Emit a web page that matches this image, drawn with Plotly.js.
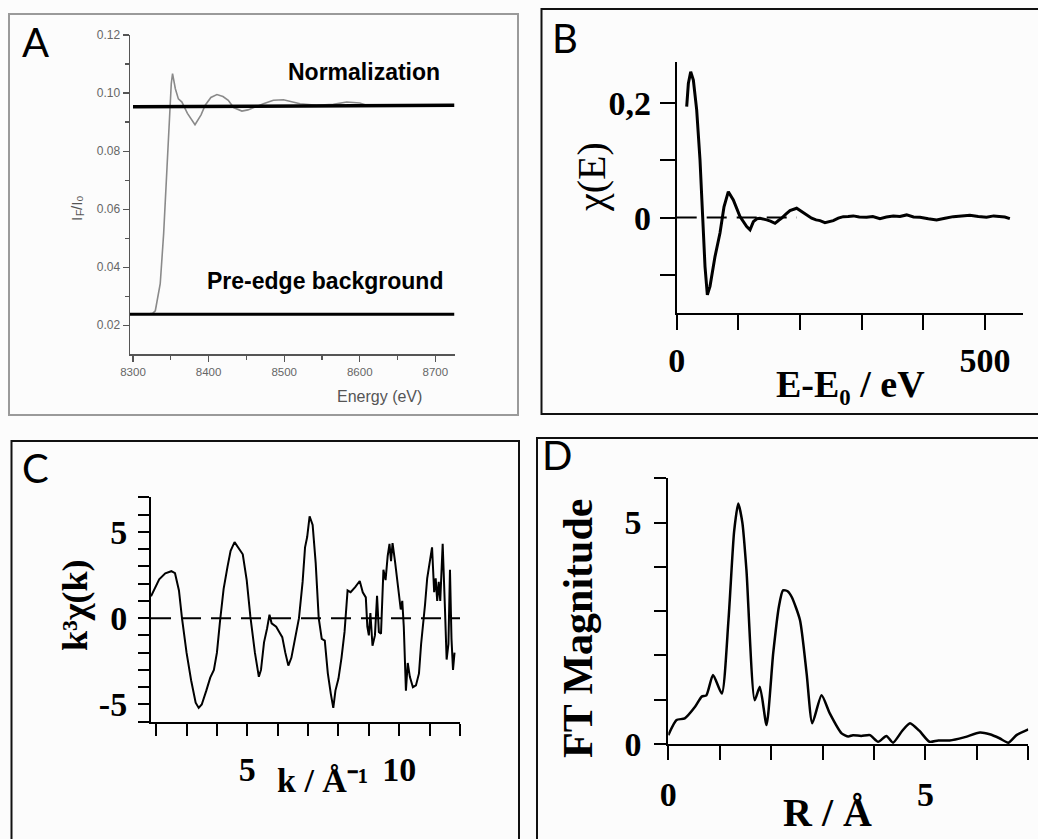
<!DOCTYPE html>
<html><head><meta charset="utf-8">
<script src="https://cdn.plot.ly/plotly-3.0.1.min.js"></script>
<style>html,body{margin:0;padding:0;background:#fcfcfc;}</style>
</head><body>
<div id="chart" style="width:1038px;height:839px;"></div>
<script>
// ---- Panel A: raw XANES/EXAFS spectrum ----
const energyA = [8296,8310,8320,8326,8329.5,8336,8340.5,8345,8348.4,8350.6,8352.3,8356,8360,8364.7,8372,8382,8390,8395.5,8403,8411,8419,8426,8433,8444,8452,8459,8472.5,8485.7,8499,8521,8543,8565,8582.7,8600,8609];
const ifI0A   = [0.0238,0.0238,0.0239,0.0241,0.025,0.0343,0.0515,0.0745,0.0917,0.1032,0.1067,0.1015,0.098,0.0969,0.093,0.0891,0.0925,0.0958,0.0985,0.0995,0.0988,0.0975,0.095,0.0938,0.0942,0.095,0.0963,0.0975,0.0977,0.0963,0.0958,0.0961,0.0969,0.0966,0.0958];
const normX = [8300, 8725];
const normY = [0.0953, 0.0958];
const preX  = [8296, 8725];
const preY  = [0.0238, 0.0238];

// ---- Panel B: chi(E) ----
const eB   = [16.2,18.9,22.7,27,32.4,37.8,42.1,45.9,49.7,54,62.1,70.2,76.7,83.7,91.8,102.6,113.5,118.9,124.3,130,135,140,145.9,152,159.4,165,170.2,177,183.7,194.5,205.3,212,218.8,226,232.3,240.4,247,253.9,262,270.1,278,286.3,296,307.9,318,329.6,340,351.2,362,372.8,384,394.4,408,421.4,435,448.4,462,475.4,489,502.4,514,524,532,540.2];
const chiB = [0.1936,0.234,0.2547,0.240,0.188,0.1006,0.0017,-0.0855,-0.1349,-0.120,-0.068,-0.027,0.019,0.0453,0.031,0.0017,-0.0157,-0.0215,-0.007,-0.002,-0.001,-0.003,-0.004,-0.006,-0.0099,-0.005,-0.001,0.006,0.0122,0.0163,0.0087,0.003,-0.001,-0.004,-0.0052,-0.0087,-0.007,-0.0052,-0.001,0.0017,0.002,0.003,0.001,0.0006,0.002,-0.0017,0.001,0.003,0.002,0.0047,0.001,0.0006,-0.002,-0.004,-0.001,0.0017,0.003,0.004,0.002,0.0006,0.003,0.0017,0.001,-0.0017];
const zeroBX = [0, 195];
const zeroBY = [0, 0];

// ---- Panel C: k^3 chi(k) ----
const kC = [1.83,1.95,2.1,2.3,2.5,2.62,2.75,2.85,3.0,3.15,3.3,3.4,3.5,3.65,3.78,3.9,4.0,4.1,4.22,4.35,4.45,4.58,4.7,4.85,4.98,5.1,5.25,5.38,5.45,5.55,5.65,5.73,5.8,5.95,6.05,6.15,6.25,6.35,6.45,6.55,6.7,6.82,6.9,6.97,7.05,7.15,7.25,7.35,7.45,7.55,7.65,7.75,7.83,7.9,8.0,8.1,8.2,8.3,8.4,8.55,8.7,8.8,8.9,8.95,9.0,9.05,9.12,9.2,9.27,9.33,9.4,9.48,9.55,9.62,9.68,9.73,9.78,9.86,9.95,10.0,10.05,10.1,10.15,10.22,10.28,10.35,10.45,10.55,10.65,10.72,10.78,10.85,10.92,11.0,11.08,11.15,11.2,11.25,11.3,11.35,11.43,11.5,11.56,11.62,11.67,11.72,11.77,11.82];
const k3chiC = [1.27,1.75,2.25,2.6,2.72,2.6,1.6,0.0,-2.0,-3.6,-4.9,-5.2,-5.0,-4.2,-3.45,-3.0,-2.0,-0.2,1.7,3.0,3.9,4.4,4.1,3.7,2.2,0.1,-2.0,-3.4,-3.0,-1.4,-0.6,0.2,-0.3,-0.5,-0.8,-1.1,-2.0,-2.75,-2.3,-1.4,0.0,2.1,4.1,4.7,5.9,5.4,3.2,0.0,-1.2,-1.3,-3.2,-4.4,-5.2,-4.2,-3.5,-2.3,-0.8,1.6,1.5,1.8,2.15,1.5,1.2,-0.5,-1.0,0.3,-1.6,-1.0,1.3,-0.8,-0.9,2.8,2.2,3.6,4.3,3.3,4.35,3.3,2.0,1.0,0.5,1.0,-0.5,-4.2,-2.6,-3.4,-4.0,-3.9,-3.2,-1.5,-0.5,0.8,2.3,3.2,4.1,1.5,2.3,1.0,2.1,1.0,4.3,0.8,-2.4,-1.5,2.8,-1.2,-3.0,-2.0];
const zeroCX = [1.83, 12];
const zeroCY = [0, 0];

// ---- Panel D: FT magnitude ----
const rD  = [0,0.16,0.32,0.52,0.65,0.74,0.87,1.04,1.17,1.28,1.36,1.44,1.52,1.68,1.78,1.91,2.04,2.15,2.23,2.32,2.40,2.56,2.69,2.80,2.98,3.14,3.37,3.50,3.59,3.75,3.92,4.08,4.24,4.37,4.55,4.70,4.88,5.08,5.25,5.47,5.75,6.06,6.25,6.44,6.61,6.77,7.0];
const ftD = [0.2,0.54,0.58,0.84,1.07,1.1,1.56,1.14,2.8,4.8,5.43,5.0,3.92,0.99,1.29,0.43,2.05,3.1,3.47,3.45,3.32,2.8,1.59,0.47,1.1,0.69,0.24,0.17,0.2,0.18,0.2,0.05,0.18,0.03,0.3,0.47,0.3,0.05,0.08,0.08,0.15,0.26,0.22,0.13,0.03,0.2,0.33];

// labelled ticks and unlabelled (minor) ticks
const tickA_x = [8300,8400,8500,8600,8700];
const tickA_xMinor = [8350,8450,8550,8650];
const tickA_y = [0.02,0.04,0.06,0.08,0.10,0.12];
const tickA_yText = ['0.02','0.04','0.06','0.08','0.10','0.12'];
const tickA_yMinor = [0.03,0.05,0.07,0.09,0.11];
const tickB_xv = [0,500];
const tickB_xt = ['0','500'];
const tickB_xMinor = [100,200,300,400];
const tickB_yv = [0,0.2];
const tickB_yt = ['0','0,2'];
const tickB_yMinor = [-0.1,0.1];
const tickC_xv = [5,10];
const tickC_xt = ['5','10'];
const tickC_xMinor = [2,3,4,6,7,8,9,11,12];
const tickC_yv = [-5,0,5];
const tickC_yt = ['-5','0','5'];
const tickC_yMinor = [-6,-4,-3,-2,-1,1,2,3,4,6,7];
const tickD_xv = [0,5];
const tickD_xt = ['0','5'];
const tickD_xMinor = [1,2,3,4,6,7];
const tickD_yv = [0,5];
const tickD_yt = ['0','5'];
const tickD_yMinor = [1,2,3,4,6];

const W = 1038, H = 839;
const px = v => v / W;
const py = v => 1 - v / H;
const SERIF = 'Liberation Serif, Times New Roman, serif';
const SANS = 'Liberation Sans, Arial, sans-serif';

const traces = [
  {x: energyA, y: ifI0A, xaxis:'x', yaxis:'y', mode:'lines', line:{color:'#8a8a8a', width:1.6}},
  {x: normX, y: normY, xaxis:'x', yaxis:'y', mode:'lines', line:{color:'#000', width:3.5}},
  {x: preX, y: preY, xaxis:'x', yaxis:'y', mode:'lines', line:{color:'#000', width:3}},
  {x: zeroBX, y: zeroBY, xaxis:'x2', yaxis:'y2', mode:'lines', line:{color:'#000', width:2, dash:'20px,10px'}},
  {x: eB, y: chiB, xaxis:'x2', yaxis:'y2', mode:'lines', line:{color:'#000', width:3}},
  {x: zeroCX, y: zeroCY, xaxis:'x3', yaxis:'y3', mode:'lines', line:{color:'#000', width:2, dash:'20px,10px'}},
  {x: kC, y: k3chiC, xaxis:'x3', yaxis:'y3', mode:'lines', line:{color:'#000', width:2}},
  {x: rD, y: ftD, xaxis:'x4', yaxis:'y4', mode:'lines', line:{color:'#000', width:2.5, shape:'spline', smoothing:0.6}}
];

const boldAxis = (extra, minorVals, len) => Object.assign({
  showgrid:false, zeroline:false, showline:true, linecolor:'#000', linewidth:2,
  ticks:'outside', tickcolor:'#000', tickwidth:2, tickmode:'array', ticklen:len,
  tickfont:{family:SERIF, size:34, color:'#000', weight:'bold'},
  minor:{tickvals:minorVals, ticks:'outside', ticklen:len, tickwidth:2, tickcolor:'#000', showgrid:false}
}, extra);

const ann = (text, x, y, font, extra) => Object.assign({
  text:text, x:px(x), y:py(y), xref:'paper', yref:'paper', showarrow:false,
  xanchor:'center', yanchor:'middle', font:font}, extra || {});

const GRAYLBL = {family:SANS, size:15, color:'#555'};
const GRAYSUB = {family:SANS, size:10.5, color:'#555'};

const layout = {
  width:W, height:H, margin:{l:0,r:0,t:0,b:0},
  paper_bgcolor:'#fcfcfc', plot_bgcolor:'rgba(0,0,0,0)', showlegend:false,
  xaxis:{domain:[px(130),px(455)], range:[8296,8726], anchor:'y',
    showgrid:false, zeroline:false, showline:true, linecolor:'#555', linewidth:1.5,
    ticks:'outside', ticklen:6, tickcolor:'#555', tickwidth:1.2, tickmode:'array', tickvals:tickA_x,
    tickfont:{family:SANS, size:11.5, color:'#666'},
    minor:{tickvals:tickA_xMinor, ticks:'outside', ticklen:4, tickcolor:'#555', showgrid:false}},
  yaxis:{domain:[py(354.3),py(35)], range:[0.01,0.12], anchor:'x',
    showgrid:false, zeroline:false, showline:true, linecolor:'#555', linewidth:1.5,
    ticks:'outside', ticklen:6, tickcolor:'#555', tickwidth:1.2, tickmode:'array',
    tickvals:tickA_y, ticktext:tickA_yText,
    tickfont:{family:SANS, size:12, color:'#666'},
    minor:{tickvals:tickA_yMinor, ticks:'outside', ticklen:4, tickcolor:'#555', showgrid:false}},
  xaxis2: boldAxis({domain:[px(676.7),px(1023.3)], range:[0,562], anchor:'y2',
    tickvals:tickB_xv, ticktext:tickB_xt, ticklabelstandoff:1}, tickB_xMinor, 15),
  yaxis2: boldAxis({domain:[py(313.3),py(62)], range:[-0.167,0.2716], anchor:'x2',
    tickvals:tickB_yv, ticktext:tickB_yt, ticklabelstandoff:2}, tickB_yMinor, 15),
  xaxis3: boldAxis({domain:[px(151),px(460)], range:[1.83,12], anchor:'y3',
    tickvals:tickC_xv, ticktext:tickC_xt, ticklabelstandoff:4}, tickC_xMinor, 12),
  yaxis3: boldAxis({domain:[py(721.7),py(497.3)], range:[-6,7], anchor:'x3',
    tickvals:tickC_yv, ticktext:tickC_yt, ticklabelstandoff:4}, tickC_yMinor, 11),
  xaxis4: boldAxis({domain:[px(668.3),px(1028.3)], range:[0,7], anchor:'y4',
    tickvals:tickD_xv, ticktext:tickD_xt, ticklabelstandoff:5}, tickD_xMinor, 14),
  yaxis4: boldAxis({domain:[py(744),py(478.3)], range:[0,6], anchor:'x4',
    tickvals:tickD_yv, ticktext:tickD_yt, ticklabelstandoff:6}, tickD_yMinor, 12),
  shapes:[
    {type:'rect', xref:'paper', yref:'paper', x0:px(9), x1:px(518), y0:py(415), y1:py(14), line:{color:'#9a9a9a', width:2}},
    {type:'rect', xref:'paper', yref:'paper', x0:px(541.5), x1:1.02, y0:py(414), y1:py(9), line:{color:'#111', width:2}},
    {type:'rect', xref:'paper', yref:'paper', x0:px(11.5), x1:px(519), y0:-0.02, y1:py(441), line:{color:'#111', width:2}},
    {type:'rect', xref:'paper', yref:'paper', x0:px(537), x1:1.02, y0:-0.02, y1:py(438), line:{color:'#111', width:2}}
  ],
  annotations:[
    ann('A', 35, 42, {family:'Lato, sans-serif', size:40, color:'#000'}),
    ann('B', 565, 38, {family:'Lato, sans-serif', size:40, color:'#000'}),
    ann('C', 35, 468, {family:'Lato, sans-serif', size:40, color:'#000'}),
    ann('D', 557, 455, {family:'Lato, sans-serif', size:40, color:'#000'}),
    ann('Normalization', 363.5, 72, {family:SANS, size:23, color:'#000', weight:'bold'}),
    ann('Pre-edge background', 325, 281, {family:SANS, size:23, color:'#000', weight:'bold'}),
    ann('Energy (eV)', 379.5, 397, {family:SANS, size:16, color:'#555'}),
    // y label of panel A: I_F / I_0, rotated, built from pieces
    ann('I', 76, 219, GRAYLBL, {textangle:-90}),
    ann('F', 80.5, 213.5, GRAYSUB, {textangle:-90}),
    ann('/I₀', 76, 203, GRAYLBL, {textangle:-90}),
    ann('χ(E)', 592, 177, {family:SERIF, size:40, color:'#000'}, {textangle:-90}),
    ann('E-E₀ / eV', 850, 384, {family:SERIF, size:38, color:'#000', weight:'bold'}),
    ann('k³χ(k)', 75, 606, {family:SERIF, size:36, color:'#000', weight:'bold'}, {textangle:-90}),
    ann('k / Å⁻¹', 322, 780, {family:SERIF, size:34, color:'#000', weight:'bold'}),
    ann('FT Magnitude', 578, 629, {family:SERIF, size:42, color:'#000', weight:'bold'}, {textangle:-90}),
    ann('R / Å', 827, 812, {family:SERIF, size:40, color:'#000', weight:'bold'})
  ]
};

Plotly.newPlot('chart', traces, layout, {staticPlot:true, displayModeBar:false});
</script>
</body></html>
